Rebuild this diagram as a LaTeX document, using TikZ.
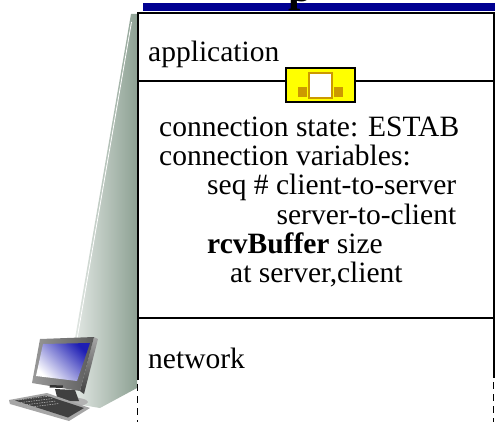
\documentclass[tikz,border=0pt]{standalone}
\usepackage{fontspec}
\setmainfont{Liberation Serif}
\usetikzlibrary{positioning}

\definecolor{titleblue}{RGB}{0,0,145}
\definecolor{sockyellow}{RGB}{255,255,0}
\definecolor{sockbrown}{RGB}{204,153,0}
\definecolor{towerdark}{RGB}{141,161,147}
\definecolor{towerlight}{RGB}{240,243,241}
\definecolor{screenblue}{RGB}{30,30,180}

\begin{document}
\begin{tikzpicture}[x=1pt,y=-1pt]

    \tikzset{
      stacktext/.style={
        anchor=base west,
        inner sep=0pt,
        font=\fontsize{29.5}{30}\selectfont,
      },
      layerline/.style={line width=2pt},
      edgedash/.style={line width=1.6pt, dash pattern=on 7pt off 5pt},
    }
    \useasboundingbox (0,0) rectangle (495,422);

    % host tower behind the stack
    \shade[left color=towerlight, right color=towerdark] (131,14) -- (137,14) -- (137,388) -- (100,408) -- (64,402) -- cycle;
    \draw[white, line width=0.8pt] (131.5,22) -- (70,380);

    % title bar, and the tail of the title above it
    \fill[titleblue] (143,3.5) rectangle (495,11.5);
    \node[anchor=base west, inner sep=0pt, font=\fontsize{44}{44}\selectfont\bfseries] (ttl) at (288,1.5) {p};

    % desktop computer
    \fill[black!30] (66,402) ellipse [x radius=22, y radius=5];
    \fill[black!75] (55,389) -- (75,390) -- (79,401) -- (58,401) -- cycle;
    \shade[top color=black!35, bottom color=black!75] (94,337) -- (98,339) -- (84,394) -- (80,391) -- cycle;
    \shade[left color=black!40, right color=black!65] (40,339) -- (94,337) -- (80,391) -- (32,383) -- cycle;
    \shade[top color=screenblue, bottom color=white, shading angle=-45] (43,344) -- (90,343) -- (77,381) -- (36,376) -- cycle;
    \fill[black!80] (50,385) -- (63,385.5) -- (62.5,388) -- (49.5,387.5) -- cycle;
    \fill[black!35] (9,400) -- (47,393) -- (90,408) -- (69,421) -- (10,404) -- cycle;
    \fill[black!75] (15,400.5) -- (46,395.5) -- (84,408) -- (68,417.5) -- cycle;
    \foreach \r in {0,1,2,3}
      \draw[black!30, line width=0.6pt, dash pattern=on 1.5pt off 1pt] (18+3*\r,400+2.5*\r) -- (50+3*\r,396+2.5*\r) ;

    % protocol stack
    \draw[line width=2pt] (137.5,380) -- (137.5,13.5) -- (493.5,13.5) -- (493.5,378);
    \draw[edgedash] (137.5,384) -- (137.5,422);
    \draw[edgedash] (493.5,382) -- (493.5,422);
    \draw[layerline] (137.5,81.5) -- (493.5,81.5);
    \draw[layerline] (137.5,318) -- (493.5,318);

    % socket between application and transport
    \node[draw, fill=sockyellow, line width=1.2pt, minimum width=69pt, minimum height=34pt, inner sep=0pt] (sock) at (320.5,85) {};
    \draw[sockbrown, fill=white, line width=1.5pt] (309,73) rectangle (332,98);
    \fill[sockbrown] (298,87) rectangle (307,97);
    \fill[sockbrown] (334,87) rectangle (343,97);

    \node[stacktext] (app) at (148,62) {application};
    \node[stacktext] (state) at (159,137) {connection state: ESTAB};
    \node[stacktext] (vars) at ([yshift=-29pt]state.base west) {connection variables:};
    \node[stacktext] (seq) at (207,195) {seq \# client-to-server};
    \node[stacktext, anchor=base east] (s2c) at ([yshift=-29pt]seq.base east) {server-to-client};
    \node[stacktext] (rcv) at (207,253) {\textbf{rcvBuffer} size};
    \node[stacktext] (atsc) at (230,282) {at server,client};
    \node[stacktext] (net) at (148,368) {network};

\end{tikzpicture}
\end{document}
